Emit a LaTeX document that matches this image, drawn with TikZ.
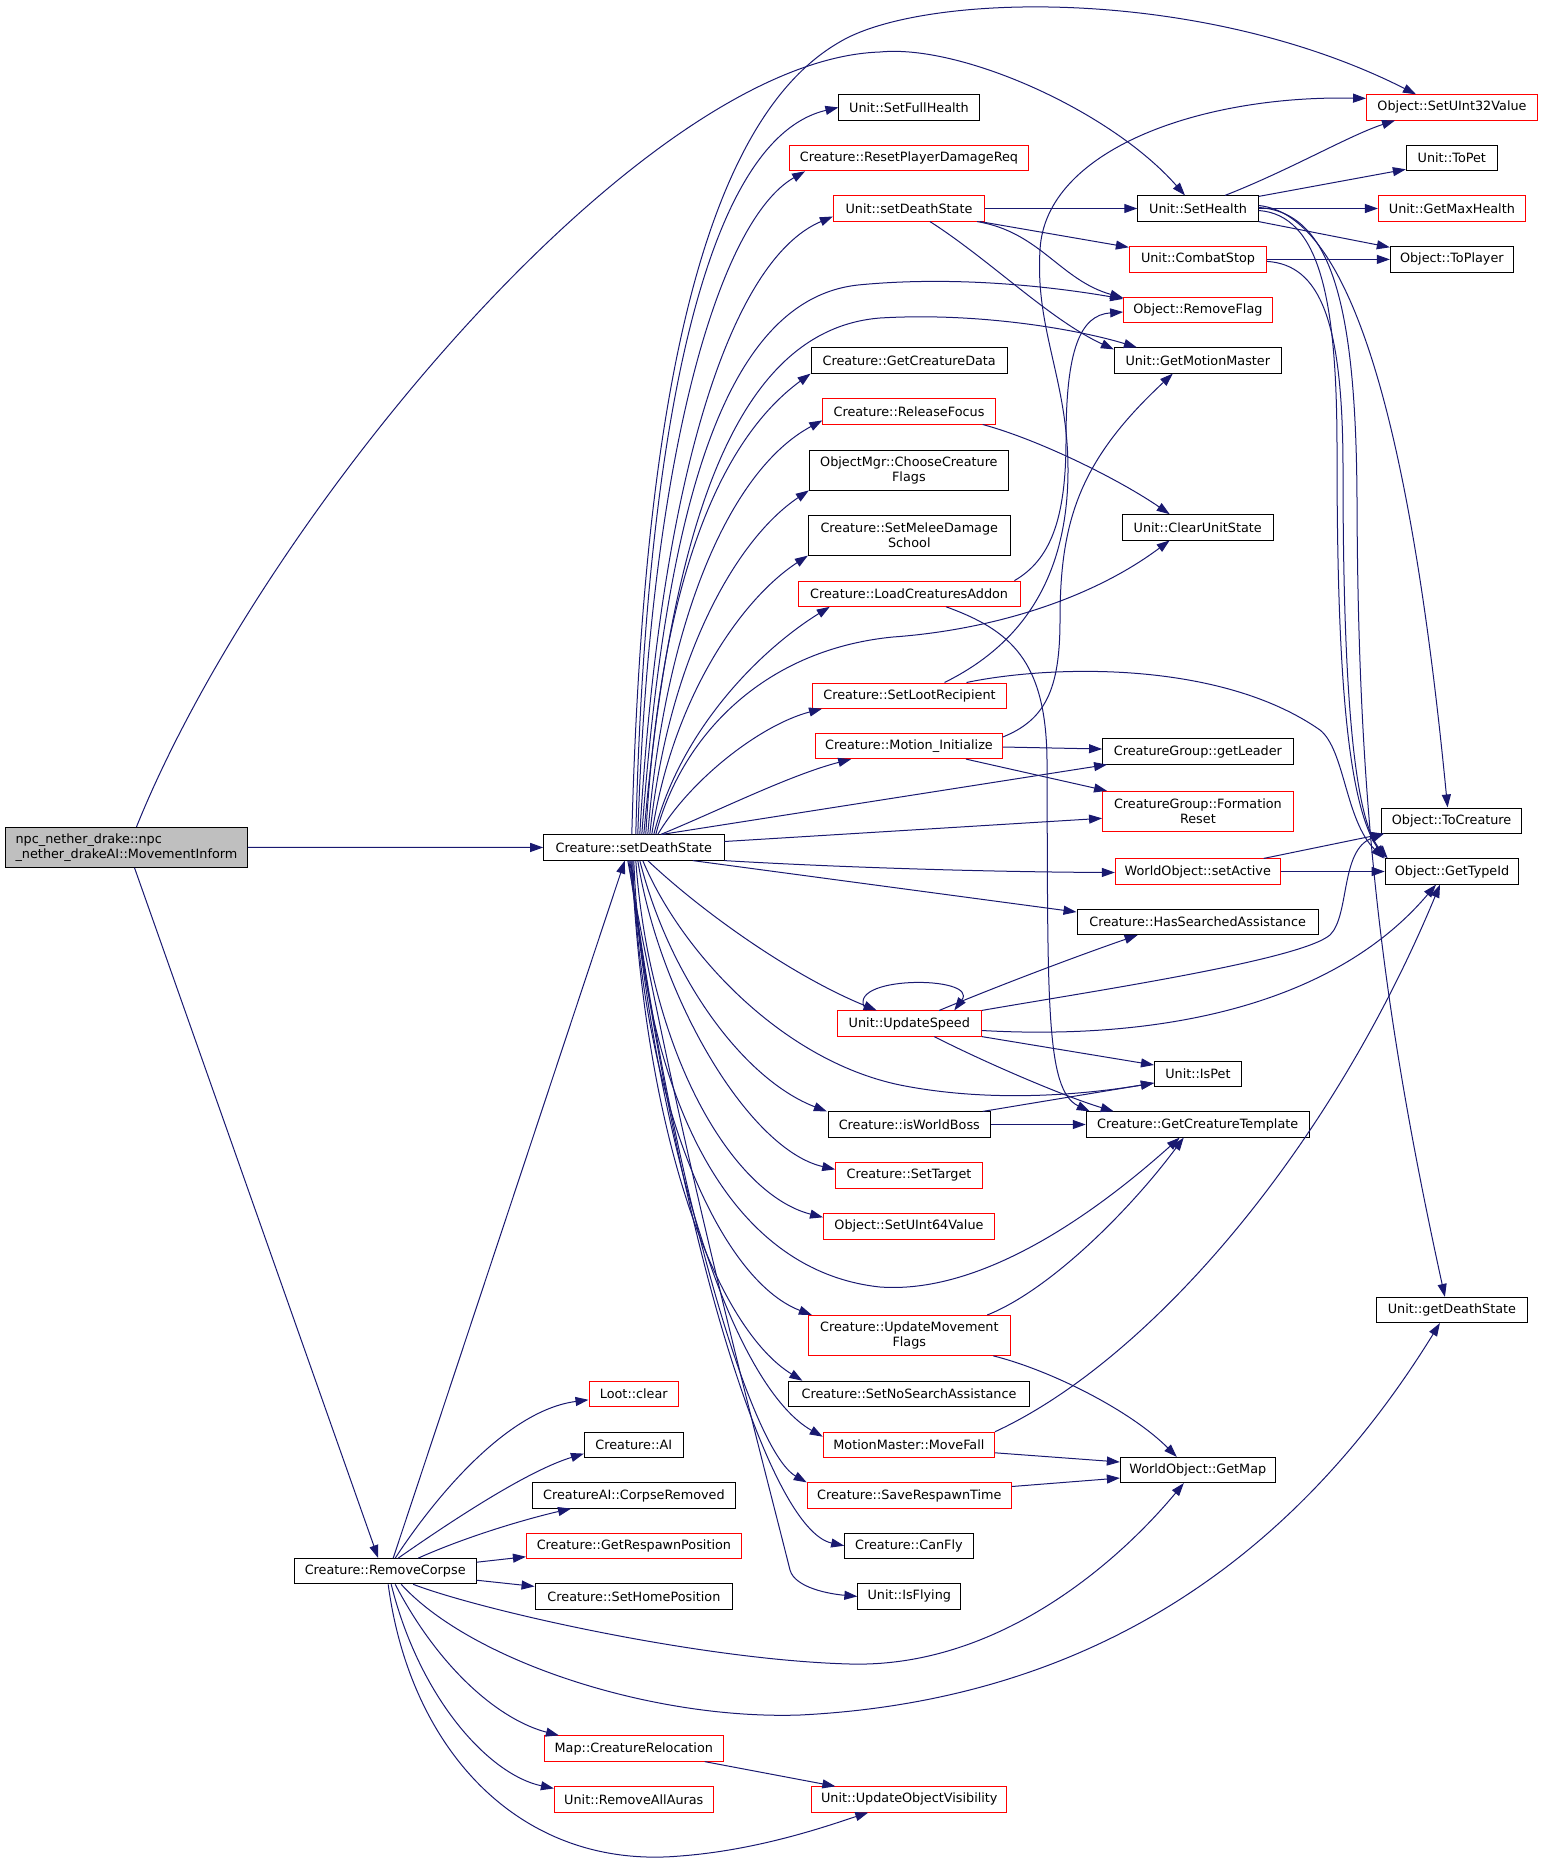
\documentclass[tikz,border=0pt]{standalone}
\usepackage{fontspec}
\setmainfont{DejaVu Sans}
\usetikzlibrary{arrows.meta}
\definecolor{edgecol}{HTML}{191970}
\definecolor{maingray}{HTML}{BFBFBF}
\tikzset{
  box/.style={draw=black, line width=0.9pt, fill=white, inner sep=0pt,
    minimum height=25.3pt, minimum width=#1,
    font=\fontsize{12.8}{15}\selectfont, align=center},
  rbox/.style={box=#1, draw=red},
  tbox/.style={box=#1, minimum height=40pt},
  trbox/.style={rbox=#1, minimum height=40pt},
  mainbox/.style={box=242pt, minimum height=40pt, fill=maingray, align=left},
  e/.style={draw=edgecol, line width=1pt, -{Triangle[length=13pt,width=9pt]}},
}
\begin{document}
\begin{tikzpicture}[x=1pt,y=-1pt]
\useasboundingbox (0,0) rectangle (1543,1863);
% ---------- nodes ----------
\node[mainbox] (main) at (126.5,847.3) {npc\_nether\_drake::npc\\\_nether\_drakeAI::MovementInform};
\node[box=180.3pt] (sds) at (633.8,847.5) {Creature::setDeathState};
\node[box=182pt] (rc) at (385.2,1571.2) {Creature::RemoveCorpse};
% column B
\node[box=140.3pt] (sfh) at (909,107.4) {Unit::SetFullHealth};
\node[rbox=239pt] (rpdr) at (909,158.2) {Creature::ResetPlayerDamageReq};
\node[rbox=151.4pt] (usds) at (909,208.5) {Unit::setDeathState};
\node[box=196.4pt] (gcd) at (909.2,360.5) {Creature::GetCreatureData};
\node[rbox=172.5pt] (rf) at (909,411.4) {Creature::ReleaseFocus};
\node[tbox=199.3pt] (ccf) at (908.9,470) {ObjectMgr::ChooseCreature\\Flags};
\node[tbox=202pt] (smds) at (909.3,535.2) {Creature::SetMeleeDamage\\School};
\node[rbox=221.8pt] (lca) at (909.1,593.7) {Creature::LoadCreaturesAddon};
\node[rbox=194pt] (slr) at (909.5,695.6) {Creature::SetLootRecipient};
\node[rbox=186.7pt] (mi) at (909,746) {Creature::Motion\_Initialize};
\node[rbox=144.3pt] (us) at (909.3,1023.5) {Unit::UpdateSpeed};
\node[box=162pt] (iwb) at (909.3,1124.5) {Creature::isWorldBoss};
\node[rbox=146.7pt] (st) at (909,1175.4) {Creature::SetTarget};
\node[rbox=171pt] (s64) at (909,1226.3) {Object::SetUInt64Value};
\node[trbox=202pt] (umf) at (909.3,1335.4) {Creature::UpdateMovement\\Flags};
\node[box=240.3pt] (snsa) at (909,1393.8) {Creature::SetNoSearchAssistance};
\node[rbox=171.4pt] (mf) at (908.9,1444.8) {MotionMaster::MoveFall};
\node[rbox=204.3pt] (srt) at (909.3,1495.5) {Creature::SaveRespawnTime};
\node[box=128.6pt] (cf) at (908.9,1545.7) {Creature::CanFly};
\node[box=103pt] (uif) at (909.3,1596.4) {Unit::IsFlying};
% column C
\node[rbox=89.7pt] (lc) at (633.8,1393.8) {Loot::clear};
\node[box=98.9pt] (cai) at (633.8,1444.6) {Creature::AI};
\node[box=202.8pt] (cr) at (633.9,1495.5) {CreatureAI::CorpseRemoved};
\node[rbox=215pt] (grp) at (633.9,1545.7) {Creature::GetRespawnPosition};
\node[box=197.8pt] (shp) at (633.9,1596.4) {Creature::SetHomePosition};
\node[rbox=178.9pt] (mcr) at (633.8,1748.5) {Map::CreatureRelocation};
\node[rbox=158.9pt] (raa) at (633.8,1799.4) {Unit::RemoveAllAuras};
\node[rbox=195pt] (uov) at (909.3,1799.4) {Unit::UpdateObjectVisibility};
% column D
\node[box=120.5pt] (sh) at (1198,208.5) {Unit::SetHealth};
\node[rbox=137.4pt] (cs) at (1198,259.4) {Unit::CombatStop};
\node[rbox=148.6pt] (orf) at (1197.9,310) {Object::RemoveFlag};
\node[box=166.9pt] (gmm) at (1197.8,360.5) {Unit::GetMotionMaster};
\node[box=151pt] (cus) at (1197.7,527.3) {Unit::ClearUnitState};
\node[box=190.8pt] (gl) at (1197.9,751.5) {CreatureGroup::getLeader};
\node[trbox=190.8pt] (fr) at (1197.9,811.3) {CreatureGroup::Formation\\Reset};
\node[rbox=165pt] (sa) at (1197.8,871.5) {WorldObject::setActive};
\node[box=241.3pt] (hsa) at (1197.6,922) {Creature::HasSearchedAssistance};
\node[box=87pt] (ip) at (1197.9,1074) {Unit::IsPet};
\node[box=223pt] (gct) at (1197.7,1124.5) {Creature::GetCreatureTemplate};
\node[box=155pt] (gm) at (1197.8,1470) {WorldObject::GetMap};
% column E
\node[rbox=171pt] (o32) at (1452,107.4) {Object::SetUInt32Value};
\node[box=91pt] (tp) at (1451.8,158.2) {Unit::ToPet};
\node[rbox=147pt] (gmh) at (1451.9,208.5) {Unit::GetMaxHealth};
\node[box=123pt] (tpl) at (1451.8,259.4) {Object::ToPlayer};
\node[box=140.6pt] (tc) at (1451.6,820.6) {Object::ToCreature};
\node[box=133.7pt] (gti) at (1452,871.5) {Object::GetTypeId};
\node[box=151pt] (gds) at (1451.9,1310) {Unit::getDeathState};
% ---------- edges ----------
% main
\draw[e] (main) -- (sds);
\draw[e] ([xshift=8pt]main.south) -- ([xshift=-7pt]rc.north);
\draw[e] ([xshift=10pt]main.north) .. controls (260,520) and (640,60) .. (880,52)
  .. controls (960,44) and (1110,110) .. ([xshift=-13pt]sh.north);
% setDeathState upward fan
\draw[e] ([xshift=-2pt]sds.north) .. controls (642,450) and (690,130) .. (838,43)
  .. controls (920,-8) and (1200,-15) .. ([xshift=-36pt]o32.north);
\draw[e] ([xshift=2pt]sds.north) .. controls (645,450) and (700,140) .. (sfh.west);
\draw[e] ([xshift=4pt]sds.north) .. controls (650,450) and (720,220) .. ([xshift=16pt]rpdr.south west);
\draw[e] ([xshift=6pt]sds.north) .. controls (660,480) and (730,260) .. ([yshift=-8pt]usds.west);
\draw[e] ([xshift=8pt]sds.north) .. controls (665,520) and (720,300) .. (858,285)
  .. controls (960,275) and (1060,288) .. ([yshift=-2pt]orf.north west);
\draw[e] ([xshift=10pt]sds.north) .. controls (670,540) and (730,330) .. (880,318)
  .. controls (980,312) and (1080,330) .. ([xshift=23pt]gmm.north west);
\draw[e] ([xshift=12pt]sds.north) .. controls (660,580) and (720,440) .. (gcd.south west);
\draw[e] ([xshift=14pt]sds.north) .. controls (665,620) and (730,470) .. ([yshift=-9pt]rf.west);
\draw[e] ([xshift=16pt]sds.north) .. controls (668,660) and (735,540) .. (ccf.south west);
\draw[e] ([xshift=18pt]sds.north) .. controls (672,700) and (740,600) .. (smds.south west);
\draw[e] ([xshift=20pt]sds.north) .. controls (680,730) and (760,650) .. ([xshift=32pt]lca.south west);
\draw[e] ([xshift=22pt]sds.north) .. controls (680,740) and (760,650) .. (893,637)
  .. controls (990,630) and (1090,600) .. ([xshift=-28pt]cus.south);
\draw[e] ([xshift=24pt]sds.north) .. controls (690,780) and (760,725) .. ([xshift=10pt]slr.south west);
\draw[e] ([xshift=27pt]sds.north) .. controls (720,810) and (790,775) .. ([xshift=36pt]mi.south west);
\draw[e] ([xshift=28pt]sds.north) -- ([xshift=5pt]gl.south west);
\draw[e] ([yshift=6pt]sds.east) -- ([yshift=-7pt]fr.west);
% setDeathState right / downward fan
\draw[e] (sds.south east) .. controls (850,868) and (1000,872) .. ([yshift=-1pt]sa.west);
\draw[e] ([xshift=59pt]sds.south) -- ([yshift=10pt]hsa.west);
\draw[e] ([xshift=14pt]sds.south) .. controls (700,910) and (790,975) .. ([xshift=40pt]us.north west);
\draw[e] ([xshift=9pt]sds.south) .. controls (680,950) and (780,1060) .. (900,1085)
  .. controls (1000,1105) and (1100,1092) .. ([yshift=-9pt]ip.west);
\draw[e] ([xshift=6pt]sds.south) .. controls (670,980) and (745,1080) .. ([xshift=-1pt]iwb.north west);
\draw[e] ([xshift=4pt]sds.south) .. controls (660,1000) and (750,1150) .. ([yshift=6pt]st.west);
\draw[e] ([xshift=2pt]sds.south) .. controls (650,1060) and (735,1195) .. ([yshift=9pt]s64.west);
\draw[e] (sds.south) .. controls (642,1080) and (720,1270) .. (880,1287)
  .. controls (990,1295) and (1110,1200) .. ([xshift=-18pt]gct.south);
\draw[e] ([xshift=-1pt]sds.south) .. controls (640,1100) and (720,1280) .. ([xshift=4pt]umf.north west);
\draw[e] ([xshift=-2pt]sds.south) .. controls (645,1150) and (720,1330) .. ([xshift=14pt]snsa.north west);
\draw[e] ([xshift=-3pt]sds.south) .. controls (660,1180) and (740,1390) .. ([yshift=-5pt]mf.north west);
\draw[e] ([xshift=-4pt]sds.south) .. controls (670,1180) and (750,1450) .. (srt.north west);
\draw[e] ([xshift=-5pt]sds.south) .. controls (680,1250) and (770,1530) .. (cf.west);
\draw[e] ([xshift=-6pt]sds.south) .. controls (680,1150) and (760,1450) .. (790,1570)
  .. controls (795,1588) and (830,1594) .. (uif.west);
% RemoveCorpse
\draw[e] ([xshift=8pt]rc.north) -- ([xshift=-9pt]sds.south);
\draw[e] ([xshift=10pt]rc.north) .. controls (440,1490) and (510,1410) .. ([yshift=-6pt]lc.west);
\draw[e] ([xshift=13pt]rc.north) .. controls (460,1515) and (530,1470) .. ([yshift=-9pt]cai.west);
\draw[e] ([xshift=33pt]rc.north) .. controls (470,1535) and (530,1518) .. ([xshift=39pt]cr.south west);
\draw[e] ([yshift=9pt]rc.east) -- ([yshift=-11pt]grp.west);
\draw[e] ([yshift=-9pt]rc.east) -- ([yshift=10pt]shp.west);
\draw[e] ([xshift=28pt]rc.south) .. controls (480,1610) and (700,1660) .. (850,1664)
  .. controls (1000,1668) and (1120,1560) .. ([xshift=-14pt]gm.south);
\draw[e] ([xshift=16pt]rc.south) .. controls (470,1660) and (650,1720) .. (800,1715)
  .. controls (1100,1700) and (1300,1550) .. ([xshift=-12pt]gds.south);
\draw[e] ([xshift=10pt]rc.south) .. controls (440,1670) and (500,1720) .. ([xshift=15pt]mcr.north west);
\draw[e] ([xshift=6pt]rc.south) .. controls (420,1700) and (490,1775) .. ([yshift=11pt]raa.west);
\draw[e] ([xshift=3pt]rc.south) .. controls (410,1750) and (520,1870) .. (680,1856)
  .. controls (760,1850) and (830,1825) .. ([xshift=-41pt]uov.south);
\draw[e] ([xshift=-19pt]mcr.south east) -- ([xshift=24pt]uov.north west);
% Unit::setDeathState
\draw[e] (usds) -- (sh);
\draw[e] ([xshift=-5pt]usds.south east) -- ([yshift=-1pt]cs.north west);
\draw[e] ([xshift=-8pt]usds.south east) .. controls (1040,232) and (1060,280) .. ([yshift=-1pt]orf.north west);
\draw[e] ([xshift=21pt]usds.south) .. controls (990,260) and (1050,320) .. ([yshift=-2pt]gmm.north west);
% Unit::SetHealth
\draw[e] ([xshift=27pt]sh.north) .. controls (1290,170) and (1350,135) .. ([xshift=-57pt]o32.south);
\draw[e] ([yshift=-1pt]sh.north east) -- ([yshift=2pt]tp.south west);
\draw[e] (sh) -- (gmh);
\draw[e] (sh.south east) -- ([yshift=-1pt]tpl.north west);
\draw[e] ([yshift=3pt]sh.east) .. controls (1350,215) and (1410,420) .. ([xshift=-4pt]tc.north);
\draw[e] ([yshift=-2pt]sh.east) .. controls (1320,215) and (1337,300) .. (1337,450)
  .. controls (1337,650) and (1345,800) .. (gti.north west);
\draw[e] ([yshift=1pt]sh.east) .. controls (1330,212) and (1356,300) .. (1357,500)
  .. controls (1358,800) and (1380,1000) .. ([xshift=-7pt]gds.north);
% Unit::CombatStop
\draw[e] (cs) -- (tpl);
\draw[e] ([yshift=-2pt]cs.east) .. controls (1320,265) and (1343,320) .. (1343,470)
  .. controls (1343,700) and (1355,820) .. ([xshift=3pt]gti.north west);
% ReleaseFocus, LoadCreaturesAddon
\draw[e] ([xshift=-13pt]rf.south east) .. controls (1040,440) and (1120,480) .. ([xshift=-28pt]cus.north);
\draw[e] ([xshift=-6pt]lca.north east) .. controls (1050,560) and (1066,520) .. (1066,440)
  .. controls (1066,350) and (1080,315) .. ([yshift=-2pt]orf.west);
\draw[e] ([xshift=37pt]lca.south) .. controls (1010,630) and (1046,660) .. (1047,760)
  .. controls (1048,1000) and (1045,1090) .. ([xshift=4pt]gct.north west);
% SetLootRecipient
\draw[e] ([xshift=35pt]slr.north) .. controls (1000,655) and (1068,600) .. (1068,470)
  .. controls (1068,380) and (1035,330) .. (1040,250)
  .. controls (1045,150) and (1200,95) .. ([yshift=9pt]o32.west);
\draw[e] ([xshift=57pt]slr.north) .. controls (1050,665) and (1220,660) .. (1320,730)
  .. controls (1345,750) and (1345,820) .. ([xshift=-1pt]gti.north west);
% Motion_Initialize
\draw[e] ([yshift=9pt]mi.east) .. controls (1045,720) and (1060,690) .. (1060,620)
  .. controls (1060,520) and (1080,460) .. ([xshift=-25pt]gmm.south);
\draw[e] ([yshift=-1pt]mi.east) -- ([yshift=2.5pt]gl.west);
\draw[e] ([xshift=57pt]mi.south) -- ([xshift=5pt]fr.north west);
% WorldObject::setActive
\draw[e] ([xshift=-17pt]sa.north east) -- ([xshift=3pt]tc.south west);
\draw[e] (sa) -- (gti);
% Unit::UpdateSpeed
\draw[e] ([xshift=-43pt]us.north) .. controls (840,975) and (980,975) .. ([xshift=45pt]us.north);
\draw[e] (us.north east) .. controls (1100,990) and (1300,960) .. (1330,935)
  .. controls (1350,915) and (1340,850) .. ([xshift=3pt]tc.south west);
\draw[e] ([yshift=-7pt]us.east) .. controls (1150,1040) and (1330,1010) .. ([xshift=-16pt]gti.south);
\draw[e] ([xshift=30pt]us.north) .. controls (1000,985) and (1080,955) .. ([xshift=-60pt]hsa.south);
\draw[e] (us.south east) -- ([yshift=9pt]ip.west);
\draw[e] ([xshift=25pt]us.south) .. controls (980,1060) and (1060,1095) .. ([xshift=28pt]gct.north west);
% Creature::isWorldBoss
\draw[e] ([xshift=-8pt]iwb.north east) -- ([yshift=-9pt]ip.west);
\draw[e] (iwb) -- (gct);
% UpdateMovementFlags
\draw[e] ([xshift=78pt]umf.north) .. controls (1050,1290) and (1130,1210) .. ([xshift=-14pt]gct.south);
\draw[e] ([xshift=84pt]umf.south) .. controls (1050,1370) and (1130,1410) .. ([xshift=-21pt]gm.north);
% MoveFall, SaveRespawnTime
\draw[e] ([yshift=-8pt]mf.east) -- ([yshift=8pt]gm.west);
\draw[e] (mf.north east) .. controls (1150,1360) and (1330,1150) .. ([xshift=-12pt]gti.south);
\draw[e] ([yshift=9pt]srt.east) -- ([yshift=-8pt]gm.west);
\end{tikzpicture}
\end{document}
